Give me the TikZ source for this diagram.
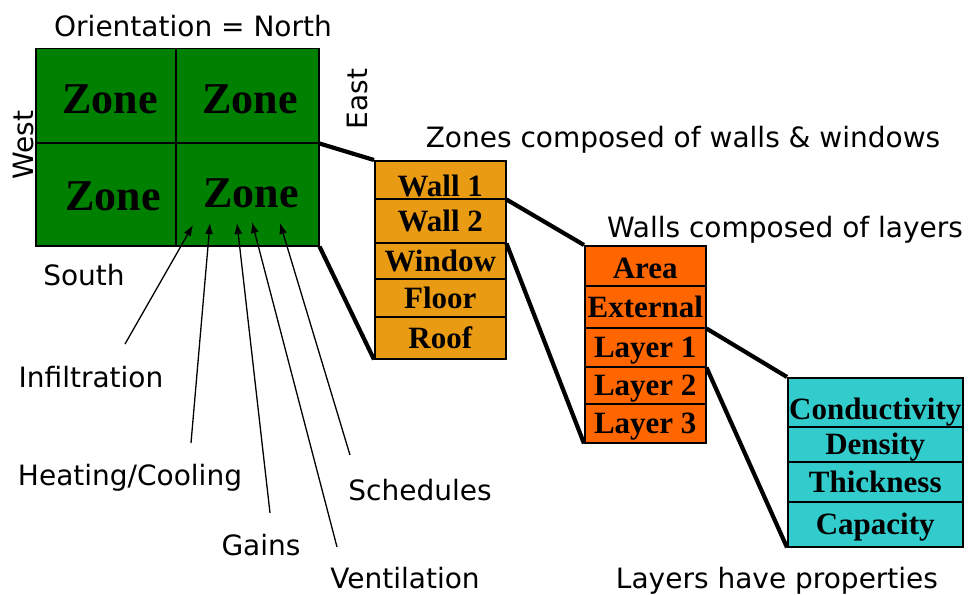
\documentclass[tikz,border=0pt]{standalone}
\usepackage{fontspec}
\setmainfont{Liberation Serif}
\newfontfamily\labelfont{DejaVu Sans}
\usetikzlibrary{arrows.meta}

\definecolor{zonegreen}{RGB}{0,128,0}
\definecolor{wallorange}{RGB}{234,155,20}
\definecolor{layerorange}{RGB}{255,102,0}
\definecolor{propcyan}{RGB}{51,204,204}

\tikzset{
  cell/.style={draw=black, line width=1.5pt, fill=zonegreen, anchor=north west, inner sep=0pt},
  zonetext/.style={font=\fontsize{44}{44}\selectfont\bfseries, anchor=base, inner sep=0pt},
  row/.style={draw=black, line width=1.5pt, anchor=north west, inner sep=0pt,
    text height=20.5pt, text depth=0pt, font=\fontsize{31}{31}\selectfont\bfseries},
  % taller text box pushes the label lower inside its row
  lowered/.style={text height=20.5pt+2*#1},
  wallrow/.style={row, fill=wallorange, minimum width=131pt},
  layerrow/.style={row, fill=layerorange, minimum width=121pt},
  proprow/.style={row, fill=propcyan, minimum width=175pt},
  caption/.style={font=\labelfont\fontsize{28}{28}\selectfont, anchor=base, inner sep=0pt},
  link/.style={line width=4.2pt},
  cue/.style={line width=1.3pt, -{Latex[length=11pt,width=8pt]}},
}

\begin{document}
\begin{tikzpicture}[x=1pt,y=-1pt]
  \useasboundingbox (0,0) rectangle (968,594);

  % building plan: four zones
  \node[cell, minimum width=140pt, minimum height=94pt]  (zTL) at (35,48)   {};
  \node[cell, minimum width=143pt, minimum height=94pt]  (zTR) at (175,48)  {};
  \node[cell, minimum width=140pt, minimum height=103pt] (zBL) at (35,142)  {};
  \node[cell, minimum width=143pt, minimum height=103pt] (zBR) at (175,142) {};
  \node[zonetext] (tTL) at (110,113) {Zone};
  \node[zonetext] (tTR) at (250,113) {Zone};
  \node[zonetext] (tBL) at (113,210) {Zone};
  \node[zonetext] (tBR) at (251,207) {Zone};

  % orientation labels
  \node[caption] (north) at (193,37) {Orientation = North};
  \node[caption] (south) at (84,285) {South};
  \node[caption, rotate=90] (west) at (33,145) {West};
  \node[caption, rotate=90] (east) at (367,99) {East};

  % zone components
  \node[wallrow, lowered=6pt, minimum height=38pt] (w1) at (374,160) {Wall 1};
  \node[wallrow, minimum height=44pt] (w2) at (374,198) {Wall 2};
  \node[wallrow, minimum height=36pt] (w3) at (374,242) {Window};
  \node[wallrow, minimum height=38pt] (w4) at (374,278) {Floor};
  \node[wallrow, minimum height=42pt] (w5) at (374,316) {Roof};

  % wall components
  \node[layerrow, lowered=2pt, minimum height=40pt] (l1) at (584,245) {Area};
  \node[layerrow, minimum height=42pt] (l2) at (584,285) {External};
  \node[layerrow, minimum height=39pt] (l3) at (584,327) {Layer 1};
  \node[layerrow, minimum height=37pt] (l4) at (584,366) {Layer 2};
  \node[layerrow, minimum height=39pt] (l5) at (584,403) {Layer 3};

  % layer properties
  \node[proprow, lowered=7pt, minimum height=49pt] (p1) at (787,377) {Conductivity};
  \node[proprow, minimum height=35pt] (p2) at (787,426) {Density};
  \node[proprow, minimum height=40pt] (p3) at (787,461) {Thickness};
  \node[proprow, minimum height=45pt] (p4) at (787,501) {Capacity};

  % headings
  \node[caption] (hZones)  at (683,147) {Zones composed of walls \& windows};
  \node[caption] (hWalls)  at (785,237) {Walls composed of layers};
  \node[caption] (hLayers) at (777,588) {Layers have properties};

  % expansion links
  \draw[link] (zTR.south east) -- (w1.north west);
  \draw[link] (zBR.south east) -- (w5.south west);
  \draw[link] (w1.south east) -- (l1.north west);
  \draw[link] (w2.south east) -- (l5.south west);
  \draw[link] (l2.south east) -- (p1.north west);
  \draw[link] (l3.south east) -- (p4.south west);

  % loads acting on a zone
  \node[caption] (infil) at (91,387)  {Infiltration};
  \node[caption] (hvac)  at (130,485) {Heating/Cooling};
  \node[caption] (gains) at (261,555) {Gains};
  \node[caption] (sched) at (420,500) {Schedules};
  \node[caption] (vent)  at (405,588) {Ventilation};

  \coordinate (aInfil) at (125,344);
  \coordinate (aHvac)  at (191,443);
  \coordinate (aGains) at (270,513);
  \coordinate (aVent)  at (337,547);
  \coordinate (aSched) at (350,455);
  \coordinate (bInfil) at (193,225);
  \coordinate (bHvac)  at (210,223);
  \coordinate (bGains) at (237,223);
  \coordinate (bVent)  at (252,222);
  \coordinate (bSched) at (280,223);

  \draw[cue] (aInfil) -- (bInfil);
  \draw[cue] (aHvac)  -- (bHvac);
  \draw[cue] (aGains) -- (bGains);
  \draw[cue] (aVent)  -- (bVent);
  \draw[cue] (aSched) -- (bSched);
\end{tikzpicture}
\end{document}
